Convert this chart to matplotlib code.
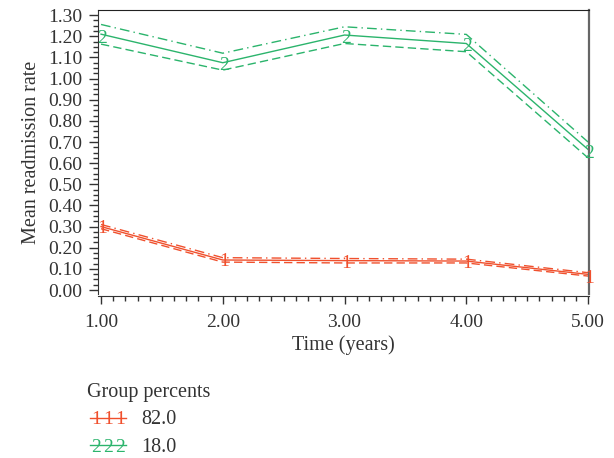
import numpy as np
import matplotlib
matplotlib.use('Agg')
import matplotlib.pyplot as plt
from matplotlib.lines import Line2D
from matplotlib.ticker import MultipleLocator, FormatStrFormatter

plt.rcParams['font.family'] = ['Liberation Serif', 'DejaVu Serif']

# Data
years = [1, 2, 3, 4, 5]

# group 1 (82.0%)
g1_est = [0.300, 0.142, 0.139, 0.137, 0.074]
g1_upper = [0.310, 0.153, 0.149, 0.146, 0.082]
g1_lower = [0.290, 0.132, 0.128, 0.128, 0.066]
g1_obs = [0.293, 0.137, 0.125, 0.125, 0.054]

# group 2 (18.0%)
g2_est = [1.210, 1.075, 1.206, 1.166, 0.665]
g2_upper = [1.256, 1.120, 1.245, 1.209, 0.700]
g2_lower = [1.163, 1.040, 1.166, 1.127, 0.625]
g2_obs = [1.190, 1.060, 1.190, 1.150, 0.647]

group_labels = ['82.0', '18.0']
group_syms = ['1', '2']
RED = '#f0502d'
GREEN = '#2bb46c'
TXT = '#333333'

fig = plt.figure(figsize=(6.14, 4.58), dpi=100)
ax = fig.add_axes([0.1596, 0.358, 0.7997, 0.620])

for est, up, lo, obs, sym, col in [
        (g1_est, g1_upper, g1_lower, g1_obs, '1', RED),
        (g2_est, g2_upper, g2_lower, g2_obs, '2', GREEN)]:
    ax.plot(years, est, color=col, lw=1.0)
    ax.plot(years, up, color=col, lw=1.0, linestyle=(0, (7, 3, 1, 3)))
    ax.plot(years, lo, color=col, lw=1.0, linestyle=(0, (6, 3)))
    for x, y in zip(years, obs):
        ax.text(x + 0.01, y, sym, color=col, fontsize=14,
                ha='center', va='center')

ax.set_xlim(0.975, 5.008)
ax.set_ylim(-0.019, 1.324)
ax.xaxis.set_major_locator(MultipleLocator(1))
ax.xaxis.set_minor_locator(MultipleLocator(0.1))
ax.yaxis.set_major_locator(MultipleLocator(0.1))
ax.yaxis.set_minor_locator(MultipleLocator(0.025))
ax.xaxis.set_major_formatter(FormatStrFormatter('%.2f'))
ax.yaxis.set_major_formatter(FormatStrFormatter('%.2f'))

ax.tick_params(axis='y', which='major', length=6.5, width=1.0, color=TXT,
               labelsize=14, labelcolor=TXT, pad=5)
ax.tick_params(axis='y', which='minor', length=3.3, width=1.0, color=TXT)
ax.tick_params(axis='x', which='major', length=6, width=1.0, color=TXT,
               labelsize=14, labelcolor=TXT, pad=7)
ax.tick_params(axis='x', which='minor', length=3.5, width=1.0, color=TXT)

ax.spines['left'].set_color(TXT)
ax.spines['bottom'].set_color(TXT)
ax.spines['top'].set_color('#222222')
ax.spines['right'].set_color('#666666')
ax.spines['right'].set_linewidth(1.6)
ax.spines['bottom'].set_position(('outward', 1.5))

ax.set_xlabel('Time (years)', fontsize=14.5, color=TXT, labelpad=3)
ax.set_ylabel('Mean readmission rate', fontsize=14.5, color=TXT, labelpad=5)

# legend block
fig.text(87 / 614, 1 - 392 / 458, 'Group percents', fontsize=14.5, color=TXT,
         ha='left', va='center')
for i, (sym, lab, col) in enumerate(zip(group_syms, group_labels, [RED, GREEN])):
    yc = 1 - (420 + 27 * i) / 458
    for xp in (96, 108, 120):
        fig.text(xp / 614, yc, sym, fontsize=14, color=col,
                 ha='center', va='center')
    fig.add_artist(Line2D([90 / 614, 126 / 614], [yc + 0.004, yc + 0.004],
                          color=col, lw=1.0, transform=fig.transFigure))
    fig.text(141 / 614, yc, lab, fontsize=14.5, color=TXT,
             ha='left', va='center')

fig.savefig('out.png', dpi=100, facecolor='white')
